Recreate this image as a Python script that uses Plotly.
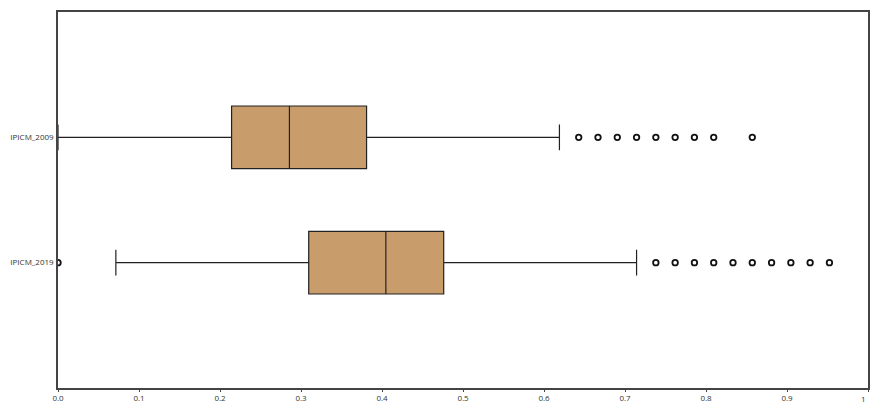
import plotly.graph_objects as go

categories = ["IPICM_2019", "IPICM_2009"]
q1 = [13/42, 9/42]
median = [17/42, 12/42]
q3 = [20/42, 16/42]
lowerfence = [3/42, 0.0]
upperfence = [30/42, 26/42]
outliers_2009 = [27/42, 28/42, 29/42, 30/42, 31/42, 32/42, 33/42, 34/42, 36/42]
outliers_2019 = [0.0, 31/42, 32/42, 33/42, 34/42, 35/42, 36/42, 37/42, 38/42, 39/42, 40/42]
tick_vals = [0.0, 0.1, 0.2, 0.3, 0.4, 0.5, 0.6, 0.7, 0.8, 0.9, 1.0]
tick_text = ["0.0", "0.1", "0.2", "0.3", "0.4", "0.5", "0.6", "0.7", "0.8", "0.9", ""]
last_tick_label = "1"

fig = go.Figure()
fig.add_trace(go.Box(
    y=categories, q1=q1, median=median, q3=q3,
    lowerfence=lowerfence, upperfence=upperfence,
    orientation="h", boxpoints=False,
    fillcolor="#C89D6B", line=dict(color="#222222", width=1.2),
    width=0.5, whiskerwidth=0.41, showlegend=False, hoverinfo="skip",
))
for cat, vals in [("IPICM_2009", outliers_2009), ("IPICM_2019", outliers_2019)]:
    fig.add_trace(go.Scatter(
        x=vals, y=[cat] * len(vals), mode="markers",
        marker=dict(symbol="circle-open", size=5.5, color="#111111", line=dict(width=1.8)),
        showlegend=False, hoverinfo="skip",
    ))

fig.add_annotation(
    x=tick_vals[-1], xref="x", y=0, yref="paper", yshift=-3,
    text=last_tick_label, showarrow=False, xanchor="right", yanchor="top",
    font=dict(family="Open Sans", size=8, color="#333333"),
)

fig.update_layout(
    template="none",
    width=870, height=404,
    margin=dict(l=58, r=2, t=12, b=16, autoexpand=False),
    paper_bgcolor="white", plot_bgcolor="white",
    font=dict(family="Open Sans", size=8, color="#333333"),
)
fig.update_xaxes(
    range=[0, 1], tickvals=tick_vals, ticktext=tick_text,
    showgrid=False, zeroline=False, automargin=False,
    showline=True, linecolor="#444444", linewidth=1.5, mirror=True,
    ticks="outside", ticklen=2, tickcolor="#444444",
    tickfont=dict(size=8, color="#333333"),
)
fig.update_yaxes(
    type="category", categoryorder="array", categoryarray=categories,
    range=[-1, 2], showgrid=False, zeroline=False, automargin=False,
    showline=True, linecolor="#444444", linewidth=1.5, mirror=True,
    ticks="", ticklabelstandoff=1,
    tickfont=dict(size=8, color="#333333"),
)
fig.write_html("out.html", config={"displayModeBar": False},
               post_script="document.body.style.margin='0';")
